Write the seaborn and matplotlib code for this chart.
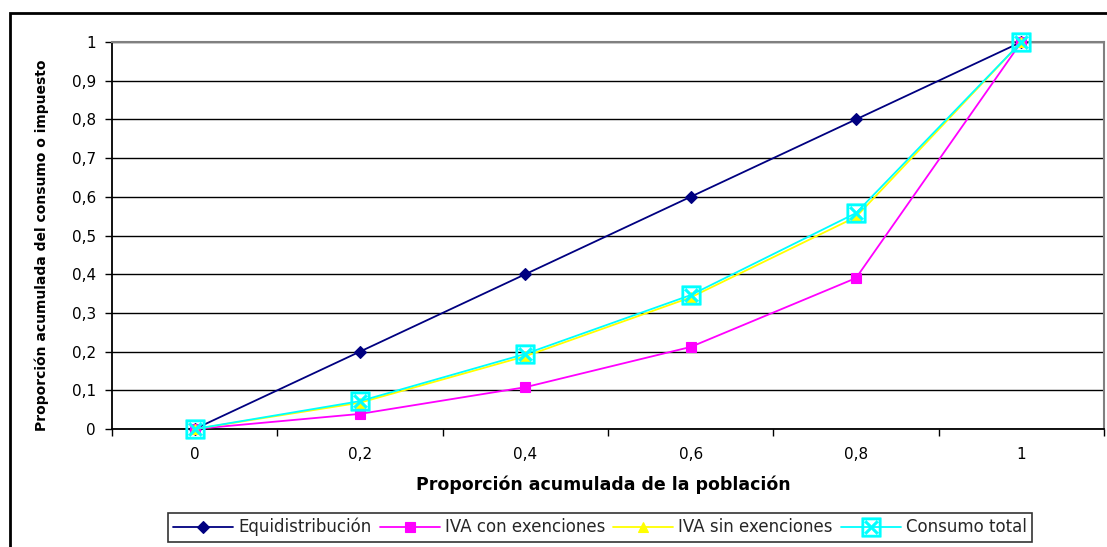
import numpy as np
import pandas as pd
import seaborn as sns
import matplotlib.pyplot as plt
from matplotlib.patches import Rectangle
from matplotlib.ticker import FixedLocator

# Datos
poblacion = [0, 0.2, 0.4, 0.6, 0.8, 1]
equidistribucion = [0, 0.2, 0.4, 0.6, 0.8, 1]
iva_con_exenciones = [0, 0.039, 0.108, 0.212, 0.390, 1]
iva_sin_exenciones = [0, 0.068, 0.188, 0.340, 0.548, 1]
consumo_total = [0, 0.072, 0.194, 0.346, 0.558, 1]

series = {
    "Equidistribución": equidistribucion,
    "IVA con exenciones": iva_con_exenciones,
    "IVA sin exenciones": iva_sin_exenciones,
    "Consumo total": consumo_total,
}
df = pd.concat(
    [pd.DataFrame({"x": poblacion, "y": v, "serie": k}) for k, v in series.items()],
    ignore_index=True,
)

sns.set_theme(style="white")
plt.rcParams["font.family"] = ["DejaVu Sans"]

fig = plt.figure(figsize=(11.07, 5.47), dpi=100)
W, H = 1107, 547
ax = fig.add_axes([112 / W, 1 - 429 / H, (1104 - 112) / W, (429 - 42) / H])

# marco exterior del gráfico
fig.patches.append(Rectangle((10 / W, -0.1), 1.2, 1 - 13 / H + 0.1, transform=fig.transFigure,
                             fill=False, edgecolor="black", linewidth=2))

estilos = {
    "Equidistribución": dict(color="#000080", marker="D", ms=6.5),
    "IVA con exenciones": dict(color="#FF00FF", marker="s", ms=7),
    "IVA sin exenciones": dict(color="#FFFF00", marker="^", ms=7.5),
    "Consumo total": dict(color="#00FFFF", marker=r"$\boxtimes$", ms=14),
}

for nombre, st in estilos.items():
    sns.lineplot(data=df[df["serie"] == nombre], x="x", y="y", ax=ax, label=nombre,
                 color=st["color"], marker=st["marker"], markersize=st["ms"],
                 markerfacecolor=st["color"], markeredgecolor=st["color"],
                 markeredgewidth=0.8 if nombre != "Consumo total" else 0.4,
                 linewidth=1.3, clip_on=False, zorder=3)

ax.set_xlim(-0.1, 1.1)
ax.set_ylim(0, 1)
ax.set_xticks(poblacion)
ax.set_xticklabels([str(v).replace(".", ",") if v not in (0, 1) else str(int(v)) for v in poblacion])
ax.xaxis.set_minor_locator(FixedLocator(np.arange(-0.1, 1.11, 0.2)))
ax.tick_params(axis="x", which="major", length=0, pad=13, labelsize=11, colors="black")
ax.tick_params(axis="x", which="minor", length=5, width=1, direction="out", colors="black", bottom=True)

yticks = np.round(np.arange(0, 1.01, 0.1), 1)
ax.set_yticks(yticks)
ax.set_yticklabels(["0" if v == 0 else ("1" if v == 1 else str(v).replace(".", ",")) for v in yticks])
ax.tick_params(axis="y", length=5, width=1, direction="out", left=True, labelsize=11,
               colors="black", pad=6.5)

ax.grid(axis="y", color="black", linewidth=1)
ax.set_axisbelow(True)
for lado in ["left", "bottom"]:
    ax.spines[lado].set_color("black")
    ax.spines[lado].set_linewidth(1.3)
for lado in ["top", "right"]:
    ax.spines[lado].set_color("#808080")
    ax.spines[lado].set_linewidth(1.5)

ax.set_xlabel("Proporción acumulada de la población", fontsize=12.5, fontweight="bold", color="black")
ax.xaxis.set_label_coords((603 - 112) / 992, (429 - 476) / 387)
ax.set_ylabel("Proporción acumulada del consumo o impuesto", fontsize=10, fontweight="bold", color="black")
ax.yaxis.set_label_coords((49 - 112) / 992, (429 - 245) / 387)

leg = ax.legend(loc="upper center", bbox_to_anchor=(600 / W, 1 - 513 / H),
                bbox_transform=fig.transFigure, ncol=4, frameon=True,
                fontsize=12, fancybox=False, edgecolor="black", handlelength=3.6,
                handletextpad=0.3, columnspacing=0.5, borderpad=0.3, borderaxespad=0)
leg.get_frame().set_linewidth(1.2)

fig.savefig("out.png", dpi=100)
